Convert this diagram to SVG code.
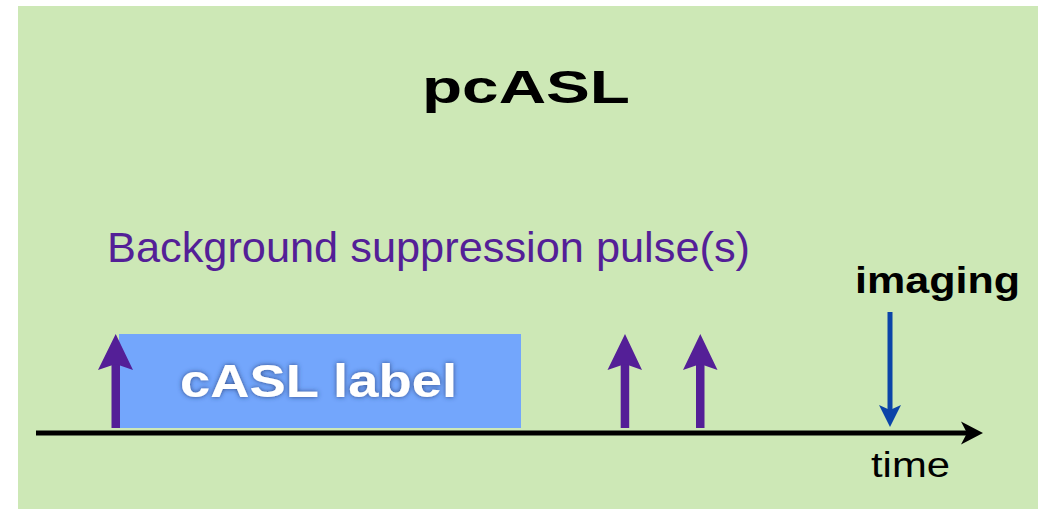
<svg xmlns="http://www.w3.org/2000/svg" width="1038" height="515" viewBox="0 0 1038 515">
<style>
.t{font-family:"Liberation Sans",Arial,sans-serif}
.b{font-weight:bold}
.pulse{fill:#541f97}
</style>
<defs>
<filter id="glow" x="-10%" y="-30%" width="120%" height="160%">
<feDropShadow dx="0" dy="0" stdDeviation="2.5" flood-color="#2a3f7a" flood-opacity="0.9"/>
</filter>
</defs>
<rect width="1038" height="515" fill="#ffffff"/>
<rect x="18" y="6" width="1020" height="503" fill="#cde8b6"/>
<text class="t b" x="422" y="103" font-size="46" textLength="208" lengthAdjust="spacingAndGlyphs">pcASL</text>
<text class="t" x="107" y="262" font-size="43" fill="#541f97" textLength="643" lengthAdjust="spacingAndGlyphs">Background suppression pulse(s)</text>
<g id="label">
<rect x="119" y="334" width="402" height="94" fill="#73a6fc"/>
<text class="t b" x="180" y="397" font-size="46" fill="#ffffff" filter="url(#glow)" textLength="277" lengthAdjust="spacingAndGlyphs">cASL label</text>
</g>
<g id="connectors">
<g id="axis">
<line x1="36" y1="433" x2="970" y2="433" stroke="#000" stroke-width="5"/>
<polygon points="983,433 961,421.5 967,433 961,444.5" fill="#000"/>
</g>
<g id="pulse1" class="pulse">
<rect x="111.5" y="362" width="8.5" height="66"/>
<polygon points="115.7,334 133,370 115.7,364 98,370"/>
</g>
<g id="pulse2" class="pulse">
<rect x="620.7" y="362" width="8.5" height="66"/>
<polygon points="625,334 642,370 625,364 607.5,370"/>
</g>
<g id="pulse3" class="pulse">
<rect x="696" y="362" width="8.5" height="66"/>
<polygon points="700.3,334 717.5,370 700.3,364 683,370"/>
</g>
<g id="imaging-arrow" fill="#0b44a8">
<rect x="887.5" y="312" width="5" height="100"/>
<polygon points="890,427 901,405 890,410 879,405"/>
</g>
</g>
<text class="t b" x="855" y="293" font-size="36" textLength="165" lengthAdjust="spacingAndGlyphs">imaging</text>
<text class="t" x="871" y="477" font-size="35" textLength="79" lengthAdjust="spacingAndGlyphs">time</text>
</svg>
